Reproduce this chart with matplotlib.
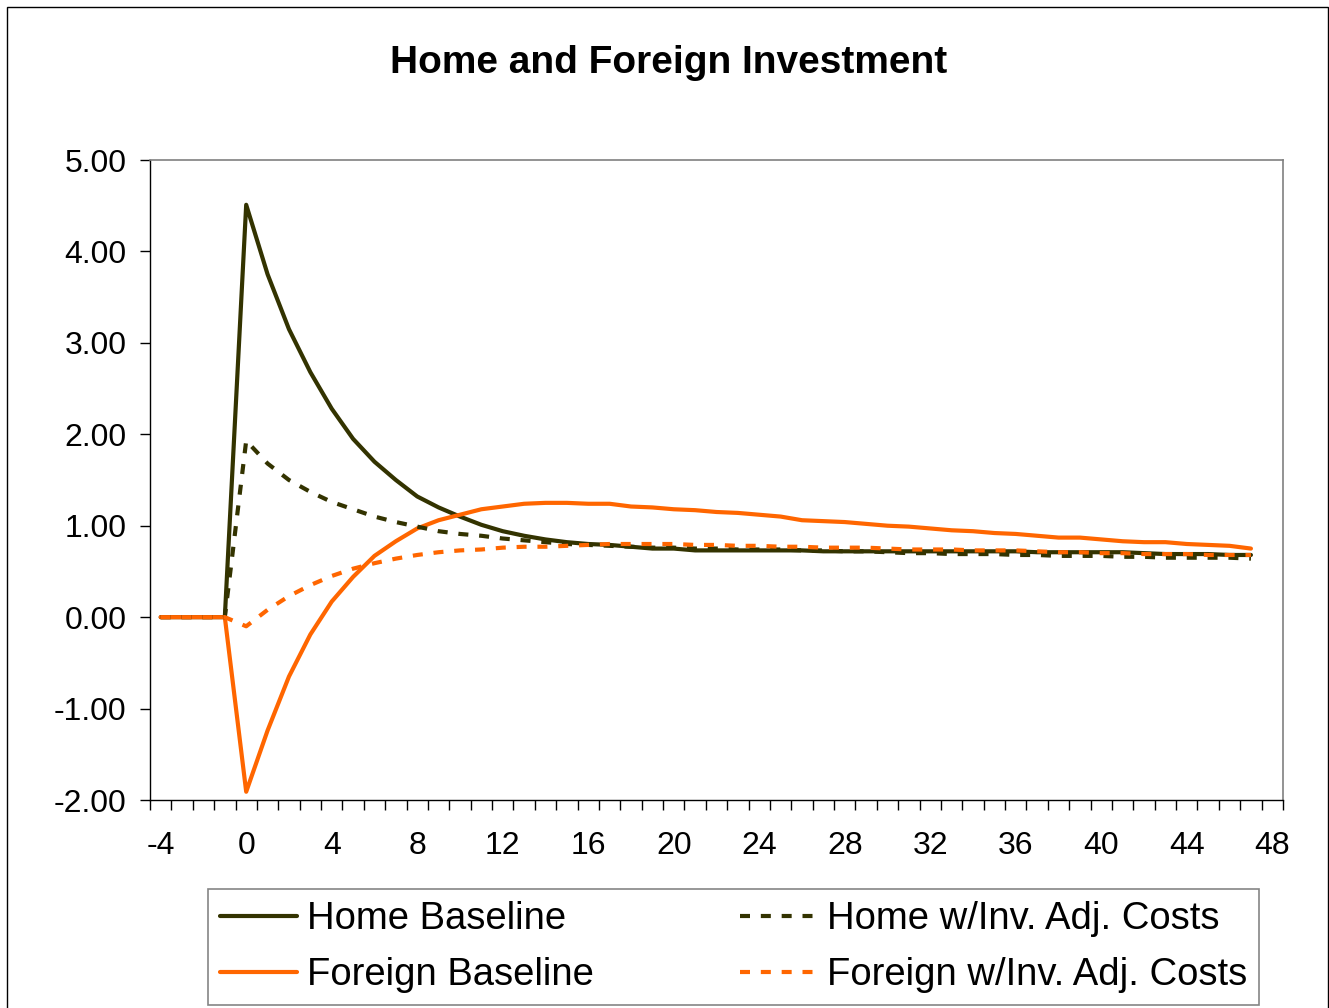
import matplotlib
matplotlib.use("Agg")
import matplotlib.pyplot as plt
from matplotlib.patches import Rectangle
from matplotlib.ticker import MultipleLocator, FormatStrFormatter
import numpy as np

plt.rcParams['font.family'] = ['Liberation Sans', 'DejaVu Sans']
plt.rcParams['axes.unicode_minus'] = False

# quarters relative to the shock
periods = list(range(-4, 48))

home_base = [0, 0, 0, 0,
             4.51, 3.75, 3.15, 2.68, 2.28, 1.95, 1.70, 1.50, 1.32, 1.20,
             1.10, 1.01, 0.94, 0.89, 0.85, 0.82, 0.80, 0.79, 0.77, 0.75,
             0.75, 0.73, 0.73, 0.73, 0.73, 0.73, 0.73, 0.72, 0.72, 0.72,
             0.72, 0.72, 0.72, 0.72, 0.72, 0.72, 0.72, 0.71, 0.71, 0.71,
             0.71, 0.71, 0.70, 0.69, 0.69, 0.69, 0.68, 0.68]
foreign_base = [0, 0, 0, 0,
                -1.91, -1.24, -0.65, -0.19, 0.17, 0.44, 0.67, 0.83, 0.97, 1.06,
                1.12, 1.18, 1.21, 1.24, 1.25, 1.25, 1.24, 1.24, 1.21, 1.20,
                1.18, 1.17, 1.15, 1.14, 1.12, 1.10, 1.06, 1.05, 1.04, 1.02,
                1.00, 0.99, 0.97, 0.95, 0.94, 0.92, 0.91, 0.89, 0.87, 0.87,
                0.85, 0.83, 0.82, 0.82, 0.80, 0.79, 0.78, 0.75]
home_adj = [0, 0, 0, 0,
            1.93, 1.68, 1.50, 1.37, 1.26, 1.18, 1.10, 1.04, 0.99, 0.94,
            0.91, 0.89, 0.86, 0.84, 0.82, 0.80, 0.79, 0.78, 0.77, 0.76,
            0.76, 0.75, 0.75, 0.74, 0.74, 0.74, 0.73, 0.73, 0.72, 0.72,
            0.71, 0.70, 0.70, 0.69, 0.69, 0.69, 0.68, 0.68, 0.67, 0.67,
            0.67, 0.66, 0.66, 0.65, 0.65, 0.65, 0.65, 0.64]
foreign_adj = [0, 0, 0, 0,
               -0.10, 0.08, 0.23, 0.35, 0.45, 0.53, 0.59, 0.64, 0.68, 0.71,
               0.73, 0.74, 0.76, 0.77, 0.77, 0.78, 0.79, 0.80, 0.80, 0.80,
               0.80, 0.79, 0.79, 0.78, 0.78, 0.77, 0.77, 0.76, 0.76, 0.76,
               0.75, 0.74, 0.74, 0.74, 0.73, 0.73, 0.73, 0.72, 0.71, 0.71,
               0.70, 0.70, 0.69, 0.69, 0.69, 0.68, 0.68, 0.68]

labels = ["Home Baseline", "Home w/Inv. Adj. Costs",
          "Foreign Baseline", "Foreign w/Inv. Adj. Costs"]

olive = "#333300"
orange = "#FF6600"

W, H = 1329, 1008
fig = plt.figure(figsize=(W / 100, H / 100), dpi=100)
ax = fig.add_axes([150 / W, 1 - 800 / H, 1133 / W, 640 / H])

lw = 3
dash = (2.4, 2.6)
l1, = ax.plot(periods, home_base, color=olive, lw=lw, solid_joinstyle='round',
              solid_capstyle='round')
l3, = ax.plot(periods, foreign_base, color=orange, lw=lw, solid_joinstyle='round',
              solid_capstyle='round')
l2, = ax.plot(periods, home_adj, color=olive, lw=lw, dashes=dash)
l4, = ax.plot(periods, foreign_adj, color=orange, lw=lw, dashes=dash)

ax.set_xlim(-4.5, 48.5)
ax.set_ylim(-2, 5)

ax.yaxis.set_major_locator(MultipleLocator(1))
ax.yaxis.set_major_formatter(FormatStrFormatter('%.2f'))
ax.set_xticks(np.arange(-4, 49, 4))
ax.set_xticks(np.arange(-4.5, 48.6, 1), minor=True)
ax.tick_params(axis='x', which='major', length=0, pad=22, labelsize=23)
ax.tick_params(axis='x', which='minor', length=7, width=1, direction='out')
ax.tick_params(axis='y', which='major', length=7, width=1, pad=10, labelsize=23,
               direction='out')

for s in ('left', 'bottom'):
    ax.spines[s].set_color('black')
    ax.spines[s].set_linewidth(1)
for s in ('top', 'right'):
    ax.spines[s].set_color('#808080')
    ax.spines[s].set_linewidth(1.2)

fig.text(669 / W, 1 - 63 / H, "Home and Foreign Investment", ha='center', va='center',
         fontsize=28, fontweight='bold')

leg = fig.legend([l1, l3, l2, l4],
                 [labels[0], labels[2], labels[1], labels[3]],
                 ncol=2, loc='upper left', bbox_to_anchor=(208 / W, 1 - 889 / H),
                 fontsize=27.5, frameon=True, fancybox=False, handlelength=2.0,
                 handletextpad=0.26, columnspacing=3.85, labelspacing=0.52,
                 borderpad=0.32, borderaxespad=0)
leg.get_frame().set_edgecolor('#666666')
leg.get_frame().set_linewidth(1.2)

fig.patches.append(Rectangle((7 / W, -0.02), (1328 - 7) / W, 1 - 7 / H + 0.02,
                             transform=fig.transFigure, fill=False,
                             edgecolor='black', lw=1))

fig.savefig("out.png", dpi=100)
